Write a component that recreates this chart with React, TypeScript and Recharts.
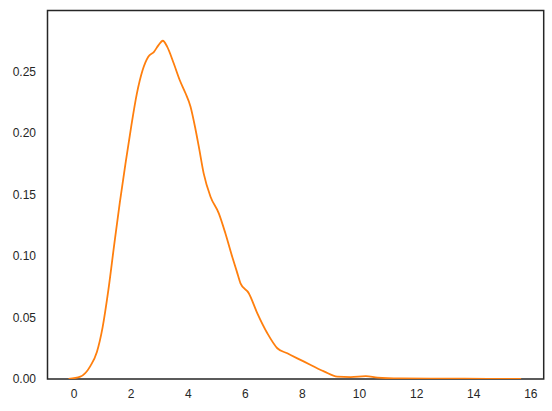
import { LineChart, Line, XAxis, YAxis, ReferenceArea } from "recharts"

// kde curve (x, density)
const xs = [
  -0.19, 0.22, 0.57, 0.8, 1.0, 1.2, 1.4, 1.6, 1.8, 2.0, 2.2, 2.4, 2.6, 2.8, 2.96, 3.11, 3.26,
  3.49, 3.7, 3.9, 4.08, 4.25, 4.37, 4.54, 4.78, 5.07, 5.3, 5.54, 5.7, 5.83, 6.12, 6.42, 6.77,
  7.12, 7.47, 7.82, 8.29, 8.64, 8.75, 9.22, 9.69, 10.22, 10.63, 11.45, 12.5, 13.5, 14.5, 15.66,
]
const density = [
  0.0, 0.0019, 0.0105, 0.022, 0.042, 0.072, 0.108, 0.143, 0.175, 0.205, 0.232, 0.251, 0.262,
  0.266, 0.2715, 0.275, 0.2702, 0.2567, 0.2431, 0.2325, 0.2214, 0.2035, 0.1889, 0.1672, 0.1482,
  0.1347, 0.1185, 0.0994, 0.0875, 0.0778, 0.0697, 0.0534, 0.0372, 0.025, 0.0209, 0.0168, 0.0114,
  0.0073, 0.0062, 0.0019, 0.0016, 0.0024, 0.0011, 0.0004, 0.0002, 0.0002, 0.0001, 0.0,
]
const xTicks = [0, 2, 4, 6, 8, 10, 12, 14, 16]
const yTicks = [0, 0.05, 0.1, 0.15, 0.2, 0.25]

const X_DOMAIN: [number, number] = [-0.93, 16.45]
const Y_DOMAIN: [number, number] = [0, 0.2996]

const data = xs.map((x, i) => ({ x, y: density[i] }))

const tickStyle = { fill: "#262626", fontSize: 12, fontFamily: "Liberation Sans, Arial, sans-serif" }

export default function App() {
  return (
    <div style={{ position: "absolute", left: 0, top: 0, background: "#fff" }}>
      <LineChart width={552} height={411} data={data} margin={{ top: 10.5, right: 8.3, bottom: 0, left: 0.5 }}>
        <XAxis
          dataKey="x"
          type="number"
          domain={X_DOMAIN}
          ticks={xTicks}
          allowDataOverflow
          tickLine={false}
          tickSize={0}
          tickMargin={10.5}
          height={32}
          axisLine={false}
          tick={tickStyle}
        />
        <YAxis
          type="number"
          domain={Y_DOMAIN}
          ticks={yTicks}
          allowDataOverflow
          tickLine={false}
          tickSize={0}
          tickMargin={11.5}
          width={47}
          axisLine={false}
          tick={tickStyle}
          tickFormatter={(v: number) => v.toFixed(2)}
        />
        <ReferenceArea
          x1={X_DOMAIN[0]}
          x2={X_DOMAIN[1]}
          y1={Y_DOMAIN[0]}
          y2={Y_DOMAIN[1]}
          fill="none"
          stroke="#262626"
          strokeWidth={1.5}
          fillOpacity={0}
        />
        <Line
          dataKey="y"
          type="monotone"
          stroke="#ff7f0e"
          strokeWidth={1.8}
          dot={false}
          isAnimationActive={false}
        />
      </LineChart>
    </div>
  )
}
